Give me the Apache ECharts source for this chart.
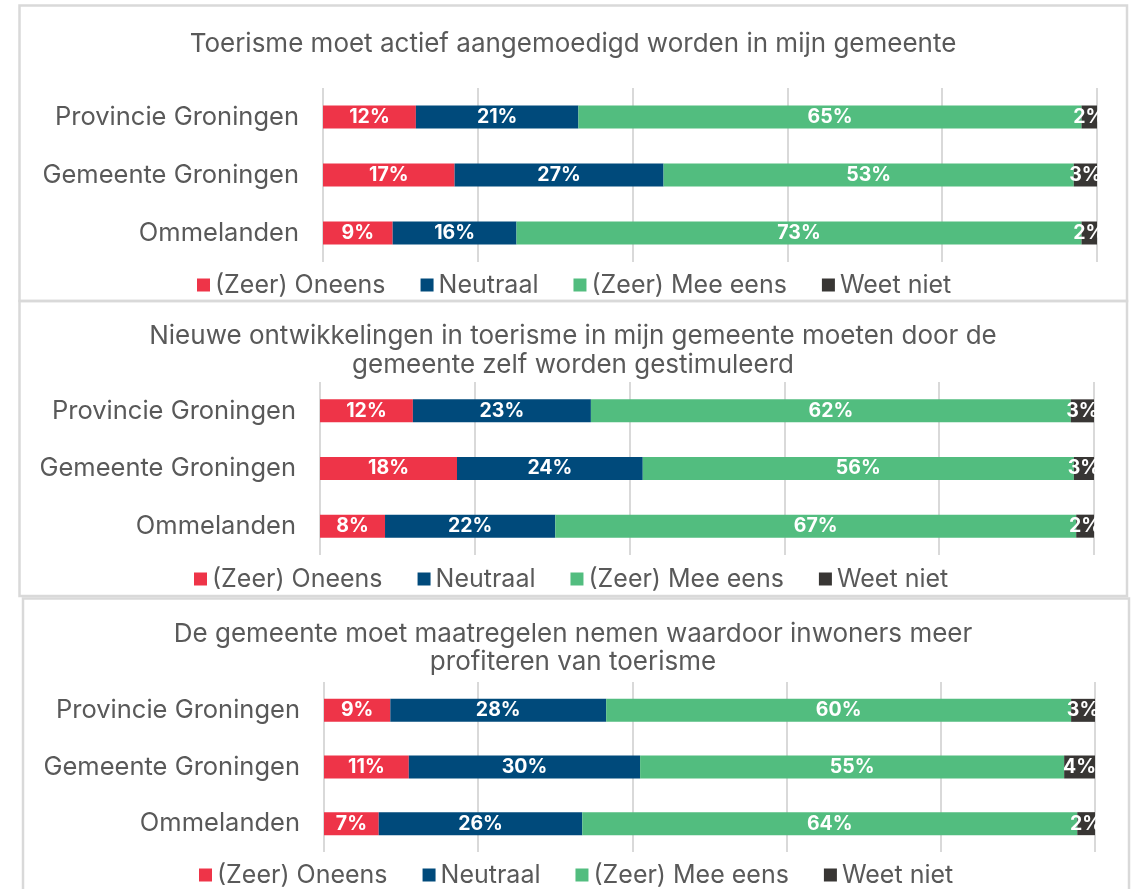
<!DOCTYPE html>
<html>
<head>
<meta charset="utf-8">
<script src="https://cdn.jsdelivr.net/npm/echarts@6/dist/echarts.min.js"></script>
<style>
html,body{margin:0;padding:0;background:#fff;}
#c{width:1137px;height:889px;}
</style>
</head>
<body>
<div id="c"></div>
<script>
// ---- data ----
const categories = ['Provincie Groningen', 'Gemeente Groningen', 'Ommelanden'];
const seriesNames = ['(Zeer) Oneens', 'Neutraal', '(Zeer) Mee eens', 'Weet niet'];
const titles = [
  'Toerisme moet actief aangemoedigd worden in mijn gemeente',
  'Nieuwe ontwikkelingen in toerisme in mijn gemeente moeten door de\ngemeente zelf worden gestimuleerd',
  'De gemeente moet maatregelen nemen waardoor inwoners meer\nprofiteren van toerisme'
];
// values per chart, per series (order: Provincie, Gemeente, Ommelanden)
const chart1Oneens   = [12, 17, 9];
const chart1Neutraal = [21, 27, 16];
const chart1MeeEens  = [65, 53, 73];
const chart1WeetNiet = [2, 3, 2];

const chart2Oneens   = [12, 17.7, 8.4];
const chart2Neutraal = [23, 24, 22];
const chart2MeeEens  = [62, 55.7, 67.3];
const chart2WeetNiet = [3, 2.6, 2.3];

const chart3Oneens   = [8.6, 11, 7.1];
const chart3Neutraal = [28, 30, 26.4];
const chart3MeeEens  = [60.3, 55, 64.2];
const chart3WeetNiet = [3.1, 4, 2.3];

const axisTicks = [0, 20, 40, 60, 80, 100];

// ---- styling / layout ----
const colors = ['#ee3448', '#004a7b', '#52bd7f', '#383634'];
const FONT = 'Inter';
const GRAY = '#595959';
const chartData = [
  [chart1Oneens, chart1Neutraal, chart1MeeEens, chart1WeetNiet],
  [chart2Oneens, chart2Neutraal, chart2MeeEens, chart2WeetNiet],
  [chart3Oneens, chart3Neutraal, chart3MeeEens, chart3WeetNiet]
];
const grids = [
  {left: 323, width: 774, top: 88, height: 174},
  {left: 320, width: 774, top: 382, height: 173},
  {left: 324, width: 771, top: 682, height: 170}
];
const titleTops = [29, 322, 620];
const titleLineHeights = [30, 29, 28];
const legendTops = [270, 564, 860];
const legendLefts = [197, 194, 199];
const panels = [
  {x: 19.5, y: 5.5, w: 1107.5, h: 295.5},
  {x: 19.5, y: 301, w: 1107.5, h: 295},
  {x: 23, y: 598.5, w: 1106, h: 300}
];

const option = {
  animation: false,
  backgroundColor: '#fff',
  color: colors,
  textStyle: {fontFamily: FONT},
  graphic: panels.map(p => ({
    type: 'rect', z: -1,
    shape: {x: p.x, y: p.y, width: p.w, height: p.h},
    style: {fill: 'none', stroke: '#d9d9d9', lineWidth: 2.5}
  })),
  title: titles.map((t, i) => ({
    text: t, left: 573, top: titleTops[i], textAlign: 'center', padding: 0,
    textStyle: {fontFamily: FONT, fontSize: 26, fontWeight: 'normal', color: GRAY, lineHeight: titleLineHeights[i]}
  })),
  legend: legendTops.map((top, i) => ({
    data: seriesNames, top: top, left: legendLefts[i], padding: 0,
    itemWidth: 13, itemHeight: 13, itemGap: 35, icon: 'rect',
    textStyle: {fontFamily: FONT, fontSize: 25, color: GRAY, lineHeight: 30},
    selectedMode: false
  })),
  grid: grids.map(g => Object.assign({containLabel: false}, g)),
  xAxis: grids.map((g, i) => ({
    type: 'value', gridIndex: i, min: axisTicks[0], max: axisTicks[axisTicks.length - 1],
    interval: axisTicks[1] - axisTicks[0],
    axisLabel: {show: false}, axisTick: {show: false}, axisLine: {show: false},
    splitLine: {show: true, lineStyle: {color: '#d9d9d9', width: 2}}
  })),
  yAxis: grids.map((g, i) => ({
    type: 'category', gridIndex: i, data: categories, inverse: true,
    axisTick: {show: false}, axisLine: {show: false},
    axisLabel: {fontFamily: FONT, fontSize: 25.5, color: GRAY, margin: 24}
  })),
  series: []
};

chartData.forEach((sets, gi) => {
  sets.forEach((vals, si) => {
    option.series.push({
      type: 'bar', name: seriesNames[si], stack: 's' + gi,
      xAxisIndex: gi, yAxisIndex: gi, data: vals, barWidth: 23,
      itemStyle: {color: colors[si]},
      label: {
        show: true, position: 'inside', color: '#fff', fontWeight: 'bold',
        fontFamily: FONT, fontSize: 19.5,
        formatter: p => Math.round(p.value) + '%'
      }
    });
  });
});

const chart = echarts.init(document.getElementById('c'));
chart.setOption(option);
</script>
</body>
</html>
